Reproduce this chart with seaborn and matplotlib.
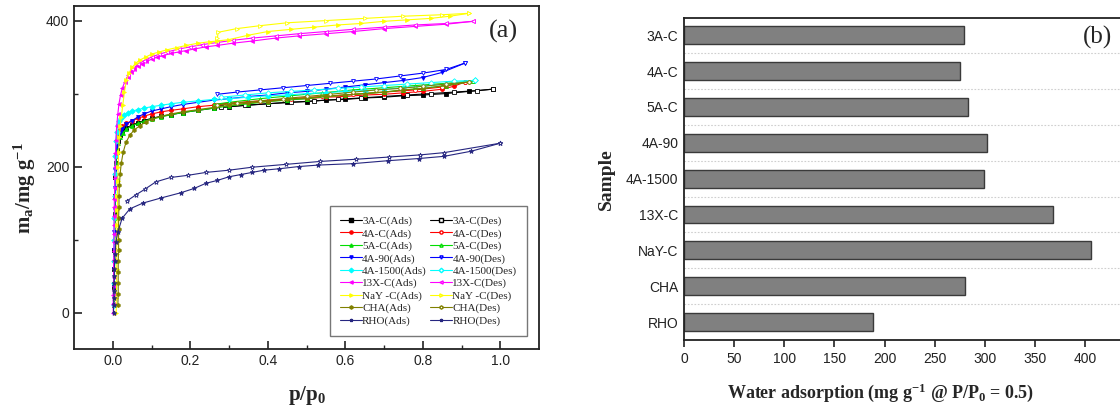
import seaborn as sns
import matplotlib.pyplot as plt
from matplotlib.lines import Line2D

# ---- (a) water isotherms ----
samples_iso = ["3A-C", "4A-C", "5A-C", "4A-90", "4A-1500", "13X-C", "NaY -C", "CHA", "RHO"]

ads_p_3a = [0.003, 0.003, 0.004, 0.004, 0.005, 0.005, 0.006, 0.007, 0.008, 0.010, 0.013, 0.018, 0.025, 0.035, 0.05, 0.065, 0.08, 0.10, 0.125, 0.15, 0.18, 0.22, 0.26, 0.30, 0.35, 0.40, 0.45, 0.50, 0.55, 0.60, 0.65, 0.70, 0.75, 0.80, 0.86, 0.92, 0.98]
ads_m_3a = [10, 35, 60, 85, 110, 135, 160, 185, 205, 222, 235, 243, 249, 253, 257, 260, 263, 266, 269, 271, 274, 277, 280, 282, 284, 286, 288, 289, 291, 292, 294, 295, 297, 298, 300, 303, 306]
des_p_3a = [0.98, 0.94, 0.88, 0.82, 0.76, 0.70, 0.64, 0.58, 0.52, 0.46, 0.40, 0.34, 0.28]
des_m_3a = [306, 304, 302, 300, 298, 296, 294, 292, 290, 288, 286, 284, 281]

ads_p_4a = [0.003, 0.004, 0.004, 0.005, 0.005, 0.006, 0.007, 0.008, 0.010, 0.013, 0.018, 0.025, 0.035, 0.05, 0.065, 0.08, 0.10, 0.125, 0.15, 0.18, 0.22, 0.26, 0.30, 0.35, 0.40, 0.45, 0.50, 0.55, 0.60, 0.65, 0.70, 0.75, 0.80, 0.85, 0.88, 0.91]
ads_m_4a = [10, 40, 70, 100, 130, 160, 190, 215, 232, 243, 250, 255, 259, 263, 266, 269, 272, 275, 277, 279, 282, 284, 286, 288, 290, 292, 293, 295, 296, 298, 299, 301, 303, 306, 310, 316]
des_p_4a = [0.91, 0.85, 0.78, 0.70, 0.62, 0.54, 0.46, 0.38, 0.30, 0.26]
des_m_4a = [316, 309, 305, 302, 299, 296, 293, 290, 287, 285]

ads_p_5a = [0.004, 0.004, 0.005, 0.005, 0.006, 0.007, 0.008, 0.009, 0.011, 0.014, 0.019, 0.026, 0.035, 0.05, 0.065, 0.08, 0.10, 0.125, 0.15, 0.18, 0.22, 0.26, 0.30, 0.35, 0.40, 0.45, 0.50, 0.55, 0.60, 0.65, 0.70, 0.75, 0.80, 0.86, 0.93]
ads_m_5a = [10, 40, 70, 100, 130, 160, 185, 205, 220, 232, 240, 246, 251, 256, 259, 262, 265, 268, 271, 274, 277, 280, 283, 286, 289, 291, 293, 296, 298, 300, 302, 305, 307, 311, 317]
des_p_5a = [0.93, 0.86, 0.78, 0.70, 0.62, 0.54, 0.46, 0.38, 0.30, 0.26]
des_m_5a = [317, 314, 311, 308, 305, 301, 297, 293, 288, 285]

ads_p_490 = [0.002, 0.003, 0.003, 0.004, 0.004, 0.005, 0.006, 0.007, 0.008, 0.010, 0.013, 0.018, 0.025, 0.035, 0.05, 0.065, 0.08, 0.10, 0.125, 0.15, 0.18, 0.22, 0.26, 0.30, 0.35, 0.40, 0.45, 0.50, 0.55, 0.60, 0.65, 0.70, 0.75, 0.80, 0.85, 0.91]
ads_m_490 = [10, 35, 60, 85, 110, 140, 170, 195, 215, 228, 238, 246, 252, 258, 263, 268, 272, 276, 279, 282, 285, 288, 291, 293, 296, 298, 301, 303, 306, 309, 312, 315, 318, 322, 329, 342]
des_p_490 = [0.91, 0.86, 0.80, 0.74, 0.68, 0.62, 0.56, 0.50, 0.44, 0.38, 0.32, 0.27]
des_m_490 = [342, 333, 328, 324, 320, 317, 314, 311, 308, 305, 302, 299]

ads_p_41500 = [0.002, 0.003, 0.003, 0.004, 0.004, 0.005, 0.006, 0.007, 0.008, 0.010, 0.013, 0.017, 0.022, 0.03, 0.04, 0.05, 0.065, 0.08, 0.10, 0.125, 0.15, 0.18, 0.22, 0.26, 0.30, 0.35, 0.40, 0.45, 0.50, 0.55, 0.60, 0.65, 0.70, 0.75, 0.80, 0.86, 0.935]
ads_m_41500 = [10, 40, 70, 100, 130, 160, 190, 215, 235, 248, 257, 263, 267, 271, 274, 276, 278, 280, 282, 284, 286, 288, 290, 292, 293, 295, 297, 298, 300, 301, 303, 304, 306, 308, 310, 313, 318]
des_p_41500 = [0.935, 0.88, 0.82, 0.76, 0.70, 0.64, 0.58, 0.52, 0.46, 0.40, 0.34, 0.28]
des_m_41500 = [318, 317, 315, 313, 311, 309, 307, 305, 303, 301, 298, 295]

ads_p_13x = [0.001, 0.001, 0.001, 0.002, 0.002, 0.002, 0.002, 0.003, 0.003, 0.003, 0.003, 0.004, 0.004, 0.004, 0.005, 0.005, 0.006, 0.007, 0.008, 0.010, 0.013, 0.016, 0.020, 0.025, 0.031, 0.038, 0.046, 0.055, 0.065, 0.075, 0.087, 0.10, 0.115, 0.13, 0.15, 0.17, 0.19, 0.21, 0.24, 0.27, 0.31, 0.36, 0.42, 0.48, 0.55, 0.62, 0.70, 0.78, 0.86, 0.93]
ads_m_13x = [0, 12, 24, 36, 48, 60, 72, 84, 96, 108, 120, 132, 144, 156, 170, 184, 200, 218, 236, 255, 272, 286, 298, 308, 316, 323, 329, 334, 338, 341, 344, 347, 350, 352, 355, 357, 359, 361, 364, 366, 369, 372, 376, 379, 382, 385, 389, 392, 395, 399]
des_p_13x = [0.93, 0.86, 0.78, 0.70, 0.62, 0.55, 0.48, 0.42, 0.36, 0.31, 0.27, 0.23, 0.20, 0.17, 0.14, 0.12, 0.10, 0.08, 0.065, 0.05, 0.04]
des_m_13x = [399, 396, 394, 391, 388, 385, 382, 379, 376, 373, 370, 367, 364, 361, 357, 354, 350, 345, 340, 333, 326]

ads_p_nay = [0.009, 0.009, 0.010, 0.010, 0.010, 0.011, 0.011, 0.012, 0.012, 0.013, 0.014, 0.015, 0.017, 0.019, 0.022, 0.026, 0.030, 0.035, 0.042, 0.05, 0.06, 0.07, 0.085, 0.10, 0.12, 0.14, 0.165, 0.19, 0.22, 0.25, 0.27, 0.30, 0.35, 0.40, 0.46, 0.52, 0.58, 0.64, 0.70, 0.76, 0.82, 0.87, 0.92]
ads_m_nay = [0, 20, 40, 60, 80, 100, 120, 140, 160, 180, 200, 220, 240, 255, 268, 285, 302, 318, 328, 336, 342, 346, 350, 354, 357, 360, 363, 366, 369, 371, 372, 374, 380, 385, 388, 391, 394, 396, 399, 401, 403, 406, 410]
des_p_nay = [0.92, 0.85, 0.75, 0.65, 0.55, 0.45, 0.38, 0.32, 0.272, 0.27]
des_m_nay = [410, 408, 406, 403, 400, 397, 393, 389, 384, 376]

ads_p_cha = [0.013, 0.014, 0.014, 0.014, 0.014, 0.015, 0.015, 0.015, 0.015, 0.016, 0.016, 0.017, 0.019, 0.022, 0.027, 0.034, 0.044, 0.055, 0.07, 0.085, 0.10, 0.125, 0.15, 0.18, 0.22, 0.26, 0.30, 0.35, 0.40, 0.45, 0.50, 0.55, 0.60, 0.65, 0.70, 0.75, 0.80, 0.86, 0.92]
ads_m_cha = [10, 25, 40, 55, 70, 85, 100, 115, 130, 145, 160, 175, 190, 205, 220, 233, 243, 250, 256, 261, 265, 269, 272, 275, 278, 281, 284, 287, 289, 292, 294, 296, 298, 300, 302, 305, 307, 311, 316]
des_p_cha = [0.92, 0.86, 0.80, 0.74, 0.68, 0.62, 0.56, 0.50, 0.44, 0.38, 0.32, 0.27]
des_m_cha = [316, 313, 310, 307, 305, 302, 299, 296, 293, 290, 287, 284]

ads_p_rho = [0.002, 0.002, 0.003, 0.003, 0.003, 0.004, 0.004, 0.005, 0.006, 0.008, 0.013, 0.024, 0.044, 0.078, 0.125, 0.175, 0.21, 0.24, 0.27, 0.30, 0.33, 0.36, 0.39, 0.43, 0.48, 0.53, 0.62, 0.71, 0.79, 0.855, 0.925, 1.0]
ads_m_rho = [0, 10, 20, 30, 40, 50, 60, 70, 80, 97, 110, 129, 142, 150, 157, 164, 170, 177, 181, 186, 189, 192, 195, 197, 200, 202, 204, 208, 211, 214, 221, 232]
des_p_rho = [1.0, 0.854, 0.794, 0.712, 0.628, 0.535, 0.447, 0.358, 0.30, 0.241, 0.194, 0.149, 0.111, 0.083, 0.059, 0.037]
des_m_rho = [232, 219, 216, 213, 210, 207, 203, 199, 195, 192, 188, 185, 179, 169, 161, 153]

ads_p = [ads_p_3a, ads_p_4a, ads_p_5a, ads_p_490, ads_p_41500, ads_p_13x, ads_p_nay, ads_p_cha, ads_p_rho]
ads_m = [ads_m_3a, ads_m_4a, ads_m_5a, ads_m_490, ads_m_41500, ads_m_13x, ads_m_nay, ads_m_cha, ads_m_rho]
des_p = [des_p_3a, des_p_4a, des_p_5a, des_p_490, des_p_41500, des_p_13x, des_p_nay, des_p_cha, des_p_rho]
des_m = [des_m_3a, des_m_4a, des_m_5a, des_m_490, des_m_41500, des_m_13x, des_m_nay, des_m_cha, des_m_rho]

# ---- (b) uptake at P/P0 = 0.5 ----
samples_bar = ["3A-C", "4A-C", "5A-C", "4A-90", "4A-1500", "13X-C", "NaY-C", "CHA", "RHO"]
uptake = [279, 275, 283, 302, 299, 368, 406, 280, 188]

colors = ["#000000", "#ff0000", "#00dd00", "#0000ff", "#00ffff", "#ff00ff", "#ffff00", "#808000", "#262680"]
markers = ["s", "o", "^", "v", "D", "<", ">", "h", "*"]

sns.set_style("white")
plt.rcParams["font.family"] = ["Liberation Sans", "DejaVu Sans"]
plt.rcParams["mathtext.fontset"] = "custom"
plt.rcParams["mathtext.rm"] = "Liberation Serif:bold"
plt.rcParams["mathtext.default"] = "rm"

fig = plt.figure(figsize=(11.2, 4.07), dpi=100)
ax1 = fig.add_axes([0.0661, 0.1425, 0.4152, 0.8428])
ax2 = fig.add_axes([0.6107, 0.1646, 0.394, 0.7912])

serif = "Liberation Serif"
handles_ads, handles_des = [], []
for i, name in enumerate(samples_iso):
    c, mk = colors[i], markers[i]
    ms = 3.5 if mk == "*" else 2.8
    sns.lineplot(x=ads_p[i], y=ads_m[i], sort=False, estimator=None, ax=ax1,
                 color=c, linewidth=0.8, marker=mk, markersize=ms,
                 markeredgecolor=c, markerfacecolor=c, markeredgewidth=0.6)
    sns.lineplot(x=des_p[i], y=des_m[i], sort=False, estimator=None, ax=ax1,
                 color=c, linewidth=0.8, marker=mk, markersize=ms,
                 markeredgecolor=c, markerfacecolor="white", markeredgewidth=0.6)
    handles_ads.append(Line2D([], [], color=c, lw=0.8, marker=mk, ms=2.3, mfc=c, mec=c,
                              label=f"{name}(Ads)"))
    handles_des.append(Line2D([], [], color=c, lw=0.8, marker=mk, ms=2.3, mfc="white", mec=c,
                              label=f"{name}(Des)"))

ax1.set_xlim(-0.1, 1.1)
ax1.set_ylim(-50, 420)
ax1.set_xticks([0.0, 0.2, 0.4, 0.6, 0.8, 1.0])
ax1.set_xticks([0.1, 0.3, 0.5, 0.7, 0.9], minor=True)
ax1.set_yticks([0, 200, 400])
ax1.set_yticks([100, 300], minor=True)
ax1.set_xticklabels(["0.0", "0.2", "0.4", "0.6", "0.8", "1.0"])
ax1.tick_params(axis="both", which="major", direction="in", length=6, width=1.2,
                labelsize=10, colors="#222222", bottom=True, left=True)
ax1.tick_params(axis="both", which="minor", direction="in", length=3, width=1.0,
                bottom=True, left=True)
for s in ax1.spines.values():
    s.set_linewidth(1.3)
    s.set_color("#222222")
ax1.set_xlabel("p/p$_{0}$", fontsize=15, fontweight="bold", family=serif, va="center")
ax1.xaxis.set_label_coords(0.5, -0.135)
ax1.set_ylabel("m$_{a}$/mg g$^{-1}$", fontsize=15, fontweight="bold", family=serif,
               va="center", ha="center")
ax1.yaxis.set_label_coords(-0.105, 0.47)
ax1.text(0.955, 0.96, "(a)", transform=ax1.transAxes, ha="right", va="top",
         fontsize=19, family=serif)

leg = ax1.legend(handles=handles_ads + handles_des, ncol=2, loc="lower right",
                 bbox_to_anchor=(0.985, 0.022), prop={"family": serif, "size": 8},
                 handlelength=2.0, handletextpad=0.0, columnspacing=0.3,
                 labelspacing=0.22, borderpad=0.9, fancybox=False, frameon=True)
leg.get_frame().set_edgecolor("#555555")
leg.get_frame().set_linewidth(1.0)

# ---- bar panel ----
sns.barplot(x=uptake, y=samples_bar, orient="h", color="#808080", saturation=1,
            edgecolor="#3a3a3a", linewidth=1.0, width=0.5, ax=ax2)
for yb in [0.5, 1.5, 2.5, 3.5, 4.5, 5.5, 6.5, 7.5]:
    ax2.axhline(yb, color="#cfcfcf", linestyle=(0, (1.5, 1.5)), linewidth=0.8, zorder=0)
ax2.set_xlim(0, 440)
ax2.set_ylim(8.5, -0.48)
ax2.set_xticks([0, 50, 100, 150, 200, 250, 300, 350, 400])
ax2.tick_params(axis="x", direction="out", length=5, width=1.2, labelsize=10,
                colors="#222222", bottom=True)
ax2.tick_params(axis="y", length=0, labelsize=10, colors="#222222", pad=4)
ax2.spines["right"].set_visible(False)
for k in ["left", "top", "bottom"]:
    ax2.spines[k].set_linewidth(1.3)
    ax2.spines[k].set_color("#222222")
ax2.set_ylabel("Sample", fontsize=14, fontweight="bold", family=serif, va="center", ha="center")
ax2.yaxis.set_label_coords(-0.175, 0.5)
ax2.set_xlabel("Water adsorption (mg g$^{-1}$ @ P/P$_{0}$ = 0.5)", fontsize=13,
               fontweight="bold", family=serif, va="center")
ax2.xaxis.set_label_coords(0.445, -0.165)
ax2.text(412, 0.05, "(b)", ha="center", va="center", fontsize=18, family=serif)

fig.savefig("out.png", dpi=100)
